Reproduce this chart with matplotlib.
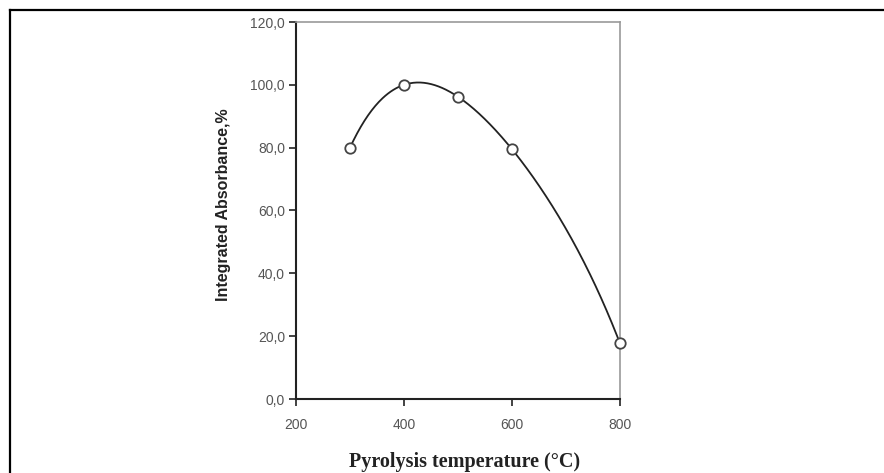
import numpy as np
import matplotlib
matplotlib.use("Agg")
import matplotlib.pyplot as plt
from matplotlib.lines import Line2D

temperature = [300, 400, 500, 600, 800]
absorbance = [80.0, 100.0, 96.2, 79.5, 17.7]
x_ticks = [200, 400, 600, 800]
y_ticks = [0, 20, 40, 60, 80, 100, 120]
y_tick_labels = ["0,0", "20,0", "40,0", "60,0", "80,0", "100,0", "120,0"]

W, H = 884, 473
fig = plt.figure(figsize=(W / 100, H / 100), dpi=100)

# page frame lines (top and left)
fig.add_artist(Line2D([10 / W, 1.0], [1 - 10 / H, 1 - 10 / H], color="black", lw=1.6, transform=fig.transFigure))
fig.add_artist(Line2D([10 / W, 10 / W], [0.0, 1 - 10 / H], color="black", lw=1.6, transform=fig.transFigure))

left, right, top, bottom = 296, 620, 22, 399
ax = fig.add_axes([left / W, 1 - bottom / H, (right - left) / W, (bottom - top) / H])

# smooth polynomial curve through the measured points
coef = np.polyfit(temperature, absorbance, len(temperature) - 1)
sx = np.linspace(min(temperature), max(temperature), 300)
sy = np.polyval(coef, sx)
ax.plot(sx, sy, color="#222222", lw=1.3, zorder=2, clip_on=False)
ax.plot(temperature, absorbance, linestyle="none", marker="o", markersize=7.5,
        markerfacecolor="white", markeredgecolor="#444444", markeredgewidth=1.3,
        zorder=3, clip_on=False)

ax.set_xlim(200, 800)
ax.set_ylim(0, 120)
ax.set_xticks(x_ticks)
ax.set_xticklabels([str(v) for v in x_ticks])
ax.set_yticks(y_ticks)
ax.set_yticklabels(y_tick_labels)

for s in ["left", "bottom"]:
    ax.spines[s].set_color("#222222")
    ax.spines[s].set_linewidth(1.5)
for s in ["top", "right"]:
    ax.spines[s].set_color("#999999")
    ax.spines[s].set_linewidth(1.2)

ax.tick_params(axis="both", direction="out", length=5, width=1.2, color="#222222",
               labelsize=10, labelcolor="#555555")
ax.tick_params(axis="x", pad=9)
ax.tick_params(axis="y", pad=3)

for lab in ax.get_xticklabels() + ax.get_yticklabels():
    lab.set_family("Liberation Sans")

ax.set_ylabel("Integrated Absorbance,%", fontsize=11.5, fontweight="bold",
              family="Liberation Sans", color="#222222")
ax.yaxis.set_label_coords(-0.2, 0.515)
ax.set_xlabel("Pyrolysis temperature (°C)", fontsize=14.5, fontweight="bold",
              family="Liberation Serif", color="#222222")
ax.xaxis.set_label_coords(0.52, -0.14)

fig.savefig("out.png", dpi=100)
